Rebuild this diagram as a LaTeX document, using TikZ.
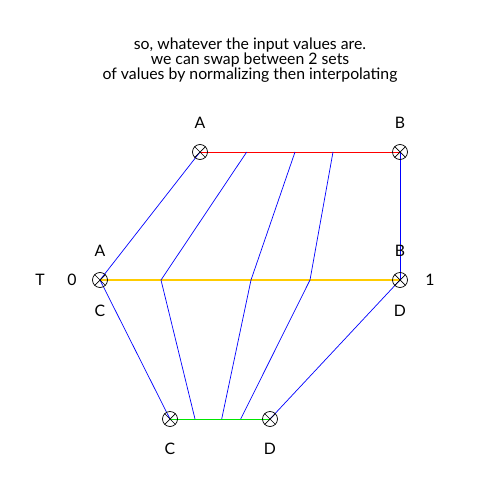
\documentclass[tikz,border=0pt]{standalone}
\usepackage{fontspec}
\setmainfont{Lato}
\usetikzlibrary{positioning}
\definecolor{gold}{RGB}{255,204,0}
\definecolor{lime}{RGB}{0,230,0}

\begin{document}
\begin{tikzpicture}[x=0.02cm,y=-0.02cm,
    pt/.style={circle,draw,thin,minimum size=0.3cm,inner sep=0pt,
      path picture={\draw (path picture bounding box.north west)--(path picture bounding box.south east)
        (path picture bounding box.north east)--(path picture bounding box.south west);}},
    lbl/.style={font=\fontsize{9}{10}\selectfont,inner sep=1pt},
    lerp/.style={blue,line width=0.4pt}]
  \useasboundingbox (0,0) rectangle (500,500);
  \node[lbl,align=center,font=\fontsize{9}{8.5}\selectfont] (title) at (250,60)
    {so, whatever the input values are.\\ we can swap between 2 sets\\ of values by normalizing then interpolating};
  % the three sets of values
  \coordinate (topA) at (200,152);
  \coordinate (topB) at (400,152);
  \coordinate (midA) at (100,280);
  \coordinate (midB) at (400,280);
  \coordinate (botC) at (170,419);
  \coordinate (botD) at (270,419);
  \coordinate (t1) at (246.7,152);
  \coordinate (t2) at (295,152);
  \coordinate (t3) at (333,152);
  \coordinate (m1) at (161,280);
  \coordinate (m2) at (251,280);
  \coordinate (m3) at (310,280);
  \coordinate (b1) at (195,419);
  \coordinate (b2) at (221.7,419);
  \coordinate (b3) at (240.7,419);
  \draw[red,line width=0.4pt] (topA)--(topB);
  \draw[gold,line width=0.8pt] (midA)--(midB);
  \draw[lime,line width=0.4pt] (botC)--(botD);
  \draw[lerp] (topA)--(midA)--(botC);
  \draw[lerp] (t1)--(m1)--(b1);
  \draw[lerp] (t2)--(m2)--(b2);
  \draw[lerp] (t3)--(m3)--(b3);
  \draw[lerp,line width=0.55pt] (topB)--(midB);
  \draw[lerp] (midB)--(botD);
  % markers
  \node[pt] (pA) at (topA) {};
  \node[pt] (pB) at (topB) {};
  \node[pt] (pmA) at (midA) {};
  \node[pt] (pmB) at (midB) {};
  \node[pt] (pC) at (botC) {};
  \node[pt] (pD) at (botD) {};
  \node[lbl,above=0.58cm of topA,anchor=center] (lA) {A};
  \node[lbl,above=0.58cm of topB,anchor=center] (lB) {B};
  \node[lbl,above=0.58cm of midA,anchor=center] (lmA) {A};
  \node[lbl,above=0.58cm of midB,anchor=center] (lmB) {B};
  \node[lbl,below=0.62cm of midA,anchor=center] (lmC) {C};
  \node[lbl,below=0.62cm of midB,anchor=center] (lmD) {D};
  \node[lbl,below=0.6cm of botC,anchor=center] (lC) {C};
  \node[lbl,below=0.6cm of botD,anchor=center] (lD) {D};
  \node[lbl] (zero) at (72,280) {0};
  \node[lbl] (one) at (430,280) {1};
  \node[lbl] (tee) at (40,280) {T};
\end{tikzpicture}
\end{document}
